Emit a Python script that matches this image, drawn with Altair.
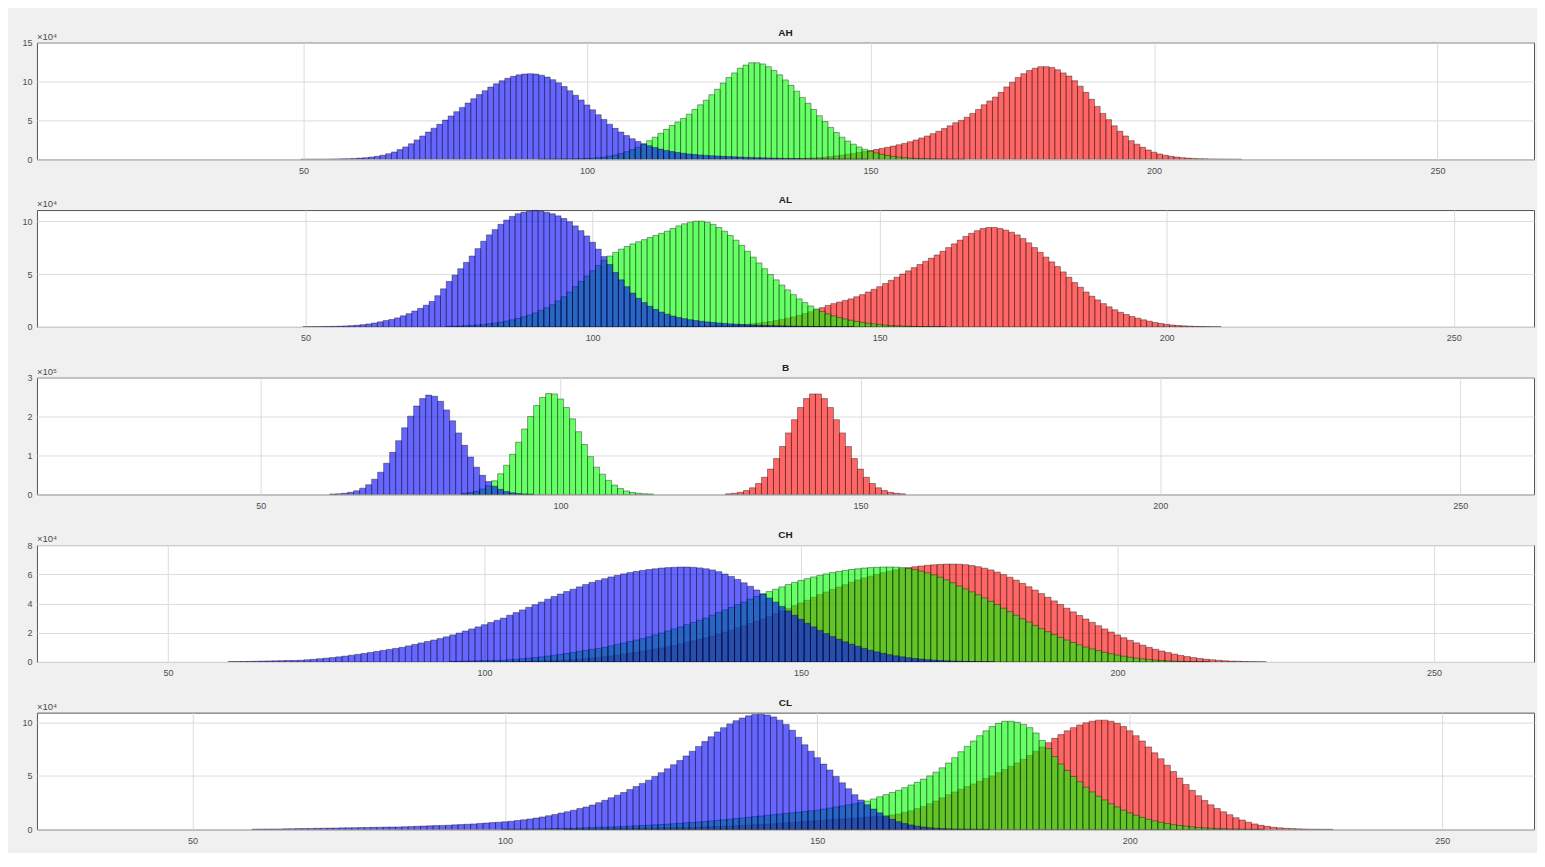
import altair as alt
import pandas as pd

X_TICKS = [50, 100, 150, 200, 250]

AH_BLUE_START = 50
AH_BLUE = [0.005, 0.008, 0.012, 0.018, 0.025, 0.035, 0.05, 0.065, 0.09, 0.12,
           0.16, 0.22, 0.3, 0.4, 0.53, 0.72, 0.95, 1.25, 1.6, 2.0,
           2.5, 3.0, 3.5, 4.0, 4.5, 5.04, 5.57, 6.12, 6.67, 7.23,
           7.78, 8.31, 8.81, 9.28, 9.7, 10.09, 10.4, 10.66, 10.85, 10.96,
           11.0, 10.95, 10.8, 10.56, 10.23, 9.82, 9.34, 8.81, 8.23, 7.62,
           6.99, 6.36, 5.73, 5.12, 4.52, 3.98, 3.5, 3.05, 2.65, 2.3,
           2.0, 1.75, 1.52, 1.32, 1.15, 1.0, 0.88, 0.78, 0.69, 0.62,
           0.56, 0.51, 0.47, 0.43, 0.39, 0.36, 0.33, 0.3, 0.27, 0.25,
           0.22, 0.2, 0.18, 0.16, 0.14, 0.12, 0.11, 0.095, 0.08, 0.07,
           0.06, 0.05, 0.04, 0.035, 0.03, 0.025, 0.02, 0.015, 0.012, 0.01]
AH_GREEN_START = 92
AH_GREEN = [0.01, 0.015, 0.02, 0.03, 0.04, 0.05, 0.065, 0.08,
            0.1, 0.15, 0.22, 0.3, 0.42, 0.56, 0.75, 0.98, 1.25, 1.55,
            1.95, 2.4, 2.85, 3.35, 3.85, 4.35, 4.8, 5.25, 5.8, 6.4,
            7.0, 7.6, 8.3, 9.0, 9.8, 10.5, 11.1, 11.7, 12.1, 12.4,
            12.4, 12.25, 11.9, 11.4, 10.85, 10.2, 9.5, 8.75, 7.95, 7.2,
            6.4, 5.6, 4.85, 4.1, 3.45, 2.85, 2.35, 1.95, 1.6, 1.3,
            1.05, 0.82, 0.64, 0.5, 0.38, 0.29, 0.22, 0.16, 0.12, 0.09,
            0.07, 0.05, 0.04, 0.03, 0.02, 0.015, 0.01]
AH_RED_START = 128
AH_RED = [0.01, 0.015, 0.02, 0.025, 0.03, 0.035, 0.04,
          0.05, 0.07, 0.09, 0.12, 0.15,
          0.19, 0.24, 0.3, 0.37, 0.45, 0.55, 0.65, 0.76, 0.88, 1.0,
          1.13, 1.26, 1.4, 1.55, 1.7, 1.87, 2.05, 2.25, 2.5, 2.75,
          3.0, 3.3, 3.6, 3.95, 4.3, 4.7, 5.0, 5.4, 5.9, 6.4,
          7.0, 7.5, 8.0, 8.6, 9.3, 9.9, 10.5, 11.0, 11.4, 11.7,
          11.9, 11.9, 11.8, 11.5, 11.1, 10.7, 10.1, 9.4, 8.6, 7.7,
          6.8, 5.9, 5.1, 4.3, 3.6, 3.0, 2.4, 1.95, 1.55, 1.2,
          0.92, 0.7, 0.52, 0.4, 0.3, 0.22, 0.16, 0.12, 0.09, 0.07,
          0.05, 0.04, 0.03, 0.02, 0.015, 0.01]

AL_BLUE_START = 50
AL_BLUE = [0.01, 0.015, 0.02, 0.03, 0.04, 0.05, 0.07, 0.09, 0.12, 0.16,
           0.21, 0.28, 0.37, 0.48, 0.6, 0.7, 0.85, 1.05, 1.25, 1.5,
           1.75, 2.05, 2.4, 2.95, 3.6, 4.3, 4.9, 5.5, 6.1, 6.7,
           7.4, 8.1, 8.7, 9.2, 9.7, 10.1, 10.45, 10.7, 10.85, 10.95,
           11.0, 10.95, 10.85, 10.7, 10.5, 10.25, 9.95, 9.55, 9.1, 8.6,
           8.0, 7.35, 6.65, 5.9, 5.15, 4.45, 3.8, 3.2, 2.7, 2.3,
           1.95, 1.65, 1.4, 1.2, 1.03, 0.89, 0.78, 0.68, 0.6, 0.53,
           0.47, 0.42, 0.37, 0.33, 0.29, 0.26, 0.23, 0.2, 0.18, 0.16,
           0.14, 0.12, 0.11, 0.095, 0.08, 0.07, 0.06, 0.05, 0.04, 0.035,
           0.03, 0.025, 0.02, 0.015, 0.012, 0.01]
AL_GREEN_START = 75
AL_GREEN = [0.05, 0.07, 0.09, 0.12, 0.15,
            0.19, 0.24, 0.3, 0.37, 0.45, 0.55, 0.67, 0.8, 0.95, 1.12,
            1.32, 1.55, 1.8, 2.1, 2.45, 2.85, 3.3, 3.8, 4.3, 4.8,
            5.3, 5.8, 6.3, 6.7, 7.05, 7.35, 7.6, 7.85, 8.05, 8.25,
            8.45, 8.65, 8.85, 9.05, 9.3, 9.55, 9.75, 9.9, 10.0, 10.0,
            9.9, 9.7, 9.4, 9.05, 8.65, 8.2, 7.7, 7.15, 6.6, 6.05,
            5.5, 4.95, 4.45, 3.95, 3.5, 3.05, 2.65, 2.3, 1.98, 1.7,
            1.45, 1.23, 1.04, 0.88, 0.75, 0.63, 0.52, 0.43, 0.35, 0.28,
            0.22, 0.17, 0.13, 0.1, 0.08, 0.06, 0.045, 0.035, 0.025, 0.02,
            0.015, 0.01]
AL_RED_START = 112
AL_RED = [0.01, 0.015, 0.02, 0.025, 0.03, 0.035, 0.04, 0.045,
          0.05, 0.07, 0.09, 0.11, 0.14, 0.17, 0.21, 0.25, 0.3, 0.36,
          0.43, 0.51, 0.6, 0.7, 0.82, 0.95, 1.1, 1.26, 1.43, 1.62,
          1.82, 2.03, 2.2, 2.35, 2.5, 2.65, 2.85, 3.05, 3.3, 3.55,
          3.8, 4.1, 4.4, 4.7, 5.0, 5.3, 5.6, 5.9, 6.2, 6.5,
          6.8, 7.15, 7.5, 7.85, 8.2, 8.55, 8.85, 9.1, 9.3, 9.4,
          9.4, 9.3, 9.15, 8.95, 8.7, 8.35, 7.95, 7.5, 7.05, 6.6,
          6.15, 5.7, 5.2, 4.7, 4.2, 3.75, 3.3, 2.9, 2.55, 2.2,
          1.9, 1.62, 1.38, 1.17, 0.98, 0.82, 0.67, 0.54, 0.42, 0.32,
          0.24, 0.18, 0.13, 0.1, 0.07, 0.05, 0.035, 0.025, 0.015, 0.01]

B_BLUE_START = 62
B_BLUE = [0.008, 0.016, 0.03, 0.054, 0.094, 0.16, 0.25, 0.39,
          0.57, 0.8, 1.08, 1.38, 1.71, 2.01, 2.27, 2.46, 2.55, 2.52,
          2.39, 2.17, 1.89, 1.58, 1.26, 0.96, 0.7, 0.49, 0.33, 0.21,
          0.13, 0.077, 0.043, 0.023, 0.012, 0.006]
B_GREEN_START = 84
B_GREEN = [0.03, 0.05, 0.08, 0.14, 0.22, 0.35,
           0.53, 0.75, 1.03, 1.34, 1.68, 2.0, 2.28, 2.49, 2.59, 2.58,
           2.45, 2.23, 1.94, 1.61, 1.28, 0.97, 0.7, 0.52, 0.36, 0.24,
           0.15, 0.09, 0.05, 0.03, 0.015, 0.01]
B_RED_START = 128
B_RED = [0.015, 0.03,
         0.055, 0.1, 0.17, 0.28, 0.44, 0.65, 0.92, 1.23, 1.58, 1.92,
         2.23, 2.46, 2.58, 2.58, 2.46, 2.23, 1.92, 1.58, 1.23, 0.92,
         0.65, 0.44, 0.28, 0.17, 0.1, 0.055, 0.03, 0.015]

CH_BLUE_START = 60
CH_BLUE = [0.02, 0.025, 0.03, 0.04, 0.05, 0.06, 0.07, 0.08, 0.09, 0.1,
           0.1, 0.12, 0.15, 0.18, 0.22, 0.26, 0.3, 0.35, 0.4, 0.46,
           0.52, 0.58, 0.65, 0.72, 0.79, 0.86, 0.93, 1.0, 1.1, 1.2,
           1.3, 1.4, 1.5, 1.6, 1.72, 1.85, 1.98, 2.12, 2.26, 2.4,
           2.55, 2.7, 2.85, 3.0, 3.2, 3.38, 3.56, 3.74, 3.92, 4.1,
           4.3, 4.48, 4.65, 4.82, 4.98, 5.14, 5.3, 5.45, 5.58, 5.7,
           5.82, 5.93, 6.03, 6.12, 6.2, 6.27, 6.33, 6.38, 6.43, 6.46,
           6.48, 6.5, 6.5, 6.48, 6.44, 6.38, 6.3, 6.18, 6.02, 5.85,
           5.65, 5.42, 5.18, 4.93, 4.66, 4.38, 4.1, 3.8, 3.5, 3.2,
           2.92, 2.65, 2.4, 2.16, 1.94, 1.74, 1.55, 1.38, 1.22, 1.07,
           0.93, 0.8, 0.69, 0.59, 0.5, 0.42, 0.35, 0.29, 0.24, 0.2,
           0.16, 0.13, 0.1, 0.08, 0.06, 0.05, 0.04, 0.03, 0.02, 0.015,
           0.01]
CH_GREEN_START = 95
CH_GREEN = [0.04, 0.05, 0.06, 0.07, 0.08,
            0.09, 0.1, 0.1, 0.12, 0.15, 0.18, 0.22, 0.26, 0.3, 0.35,
            0.4, 0.46, 0.52, 0.58, 0.65, 0.72, 0.79, 0.86, 0.93, 1.0,
            1.1, 1.2, 1.3, 1.4, 1.5, 1.6, 1.72, 1.85, 1.98, 2.12,
            2.26, 2.4, 2.55, 2.7, 2.85, 3.0, 3.2, 3.38, 3.56, 3.74,
            3.92, 4.1, 4.3, 4.48, 4.65, 4.82, 4.98, 5.14, 5.3, 5.45,
            5.58, 5.7, 5.82, 5.93, 6.03, 6.12, 6.2, 6.27, 6.33, 6.38,
            6.43, 6.46, 6.48, 6.5, 6.5, 6.49, 6.46, 6.4, 6.32, 6.22,
            6.1, 5.96, 5.8, 5.62, 5.42, 5.2, 5.0, 4.8, 4.6, 4.38,
            4.15, 3.92, 3.68, 3.44, 3.2, 2.96, 2.73, 2.5, 2.28, 2.07,
            1.87, 1.68, 1.5, 1.33, 1.17, 1.02, 0.89, 0.77, 0.66, 0.56,
            0.47, 0.39, 0.32, 0.26, 0.21, 0.17, 0.13, 0.1, 0.075, 0.055,
            0.04, 0.03, 0.02, 0.015, 0.01]
CH_RED_START = 105
CH_RED = [0.04, 0.05, 0.06, 0.07, 0.08,
          0.09, 0.1, 0.11, 0.13, 0.16, 0.19, 0.23, 0.27, 0.31, 0.36,
          0.41, 0.47, 0.54, 0.6, 0.67, 0.74, 0.81, 0.89, 0.96, 1.03,
          1.13, 1.24, 1.34, 1.44, 1.55, 1.65, 1.77, 1.9, 2.04, 2.18,
          2.33, 2.47, 2.63, 2.78, 2.94, 3.09, 3.3, 3.48, 3.67, 3.85,
          4.04, 4.22, 4.43, 4.61, 4.79, 4.96, 5.13, 5.29, 5.46, 5.61,
          5.75, 5.87, 5.99, 6.11, 6.21, 6.3, 6.39, 6.46, 6.52, 6.57,
          6.62, 6.65, 6.68, 6.7, 6.7, 6.69, 6.66, 6.6, 6.52, 6.42,
          6.3, 6.15, 5.98, 5.8, 5.6, 5.38, 5.15, 4.92, 4.68, 4.43,
          4.18, 3.93, 3.68, 3.43, 3.18, 2.94, 2.71, 2.48, 2.26, 2.05,
          1.85, 1.66, 1.48, 1.31, 1.15, 1.0, 0.87, 0.75, 0.64, 0.54,
          0.45, 0.37, 0.3, 0.24, 0.19, 0.15, 0.11, 0.08, 0.06, 0.045,
          0.03, 0.02, 0.015, 0.01]

CL_BLUE_START = 60
CL_BLUE = [0.03, 0.035, 0.04, 0.045, 0.05, 0.06, 0.07, 0.08, 0.09, 0.1,
           0.11, 0.12, 0.13, 0.14, 0.15, 0.16, 0.17, 0.18, 0.19, 0.2,
           0.21, 0.22, 0.23, 0.24, 0.26, 0.28, 0.3, 0.32, 0.34, 0.36,
           0.38, 0.4, 0.43, 0.46, 0.49, 0.52, 0.56, 0.6, 0.64, 0.68,
           0.72, 0.77, 0.83, 0.9, 0.98, 1.07, 1.17, 1.28, 1.4, 1.53,
           1.66, 1.8, 1.95, 2.1, 2.28, 2.5, 2.72, 2.96, 3.2, 3.45,
           3.72, 4.0, 4.3, 4.6, 4.95, 5.3, 5.66, 6.04, 6.44, 6.86,
           7.3, 7.75, 8.2, 8.65, 9.1, 9.5, 9.85, 10.15, 10.4, 10.6,
           10.72, 10.75, 10.68, 10.5, 10.2, 9.8, 9.25, 8.6, 7.9, 7.3,
           6.7, 6.1, 5.55, 4.95, 4.35, 3.8, 3.25, 2.75, 2.3, 1.9,
           1.55, 1.22, 0.95, 0.73, 0.55, 0.42, 0.31, 0.23, 0.17, 0.12,
           0.09, 0.065, 0.045, 0.035, 0.025, 0.02, 0.015, 0.01]
CL_GREEN_START = 100
CL_GREEN = [0.03, 0.035, 0.04, 0.045, 0.05, 0.06, 0.07, 0.08, 0.09, 0.1,
            0.11, 0.12, 0.14, 0.16, 0.18, 0.2, 0.22, 0.24, 0.26, 0.28,
            0.31, 0.34, 0.37, 0.4, 0.43, 0.46, 0.5, 0.54, 0.58, 0.62,
            0.66, 0.7, 0.75, 0.8, 0.85, 0.9, 0.96, 1.02, 1.08, 1.14,
            1.2, 1.26, 1.32, 1.38, 1.44, 1.5, 1.56, 1.62, 1.68, 1.74,
            1.8, 1.9, 2.0, 2.1, 2.2, 2.3, 2.4, 2.5, 2.65, 2.85,
            3.05, 3.25, 3.45, 3.65, 3.9, 4.15, 4.4, 4.7, 5.0, 5.35,
            5.75, 6.2, 6.7, 7.25, 7.75, 8.25, 8.75, 9.2, 9.6, 9.9,
            10.1, 10.1, 10.0, 9.8, 9.5, 9.0, 8.3, 7.55, 6.8, 6.1,
            5.5, 4.95, 4.45, 3.95, 3.5, 3.1, 2.75, 2.4, 2.1, 1.8,
            1.55, 1.33, 1.13, 0.95, 0.8, 0.67, 0.55, 0.45, 0.37, 0.3,
            0.24, 0.19, 0.15, 0.12, 0.09, 0.07, 0.05, 0.04, 0.03, 0.02,
            0.015, 0.01]
CL_RED_START = 110
CL_RED = [0.02, 0.025, 0.03, 0.035, 0.04, 0.05, 0.06, 0.07, 0.08, 0.09,
          0.1, 0.11, 0.12, 0.13, 0.14, 0.15, 0.16, 0.17, 0.18, 0.19,
          0.2, 0.22, 0.24, 0.26, 0.28, 0.3, 0.32, 0.35, 0.38, 0.41,
          0.44, 0.47, 0.5, 0.54, 0.58, 0.62, 0.66, 0.7, 0.74, 0.78,
          0.82, 0.86, 0.9, 0.94, 0.98, 1.02, 1.06, 1.1, 1.15, 1.2,
          1.25, 1.3, 1.35, 1.45, 1.6, 1.75, 1.95, 2.15, 2.4, 2.65,
          2.95, 3.25, 3.5, 3.75, 4.0, 4.25, 4.5, 4.75, 5.0, 5.3,
          5.6, 5.9, 6.2, 6.55, 6.9, 7.3, 7.7, 8.1, 8.5, 8.85,
          9.2, 9.5, 9.75, 9.95, 10.1, 10.2, 10.2, 10.1, 9.9, 9.6,
          9.2, 8.75, 8.25, 7.7, 7.15, 6.6, 6.0, 5.4, 4.8, 4.2,
          3.65, 3.15, 2.7, 2.3, 1.95, 1.65, 1.38, 1.1, 0.88, 0.68,
          0.52, 0.39, 0.29, 0.21, 0.15, 0.11, 0.08, 0.06, 0.04, 0.03,
          0.02, 0.015, 0.01]

RED, GREEN, BLUE = "#ff0000", "#00ff00", "#0000ff"

PANELS = [
    dict(title="AH", exp="×10⁴", xdom=[3, 267], ydom=[0, 15], yticks=[0, 5, 10, 15],
         series=[(AH_RED_START, AH_RED, RED), (AH_GREEN_START, AH_GREEN, GREEN), (AH_BLUE_START, AH_BLUE, BLUE)]),
    dict(title="AL", exp="×10⁴", xdom=[3.2, 264], ydom=[0, 11.05], yticks=[0, 5, 10],
         series=[(AL_RED_START, AL_RED, RED), (AL_GREEN_START, AL_GREEN, GREEN), (AL_BLUE_START, AL_BLUE, BLUE)]),
    dict(title="B", exp="×10⁵", xdom=[12.7, 262.3], ydom=[0, 3], yticks=[0, 1, 2, 3],
         series=[(B_RED_START, B_RED, RED), (B_GREEN_START, B_GREEN, GREEN), (B_BLUE_START, B_BLUE, BLUE)]),
    dict(title="CH", exp="×10⁴", xdom=[29.3, 265.8], ydom=[0, 8], yticks=[0, 2, 4, 6, 8],
         series=[(CH_RED_START, CH_RED, RED), (CH_GREEN_START, CH_GREEN, GREEN), (CH_BLUE_START, CH_BLUE, BLUE)]),
    dict(title="CL", exp="×10⁴", xdom=[25.1, 264.7], ydom=[0, 10.9], yticks=[0, 5, 10],
         series=[(CL_RED_START, CL_RED, RED), (CL_GREEN_START, CL_GREEN, GREEN), (CL_BLUE_START, CL_BLUE, BLUE)]),
]

GRID = "#dcdcdc"
LABEL = "#4d4d4d"
FONT = "Liberation Sans"


def panel(p):
    xscale = alt.Scale(domain=p["xdom"], nice=False, zero=False)
    yscale = alt.Scale(domain=p["ydom"], nice=False, zero=True)
    xaxis = alt.Axis(values=X_TICKS, title=None, grid=True, gridColor=GRID, labelFontSize=9,
                     labelColor=LABEL, labelFont=FONT, ticks=False, labelPadding=7, domain=False,
                     minExtent=20, maxExtent=20, labelFlush=False)
    yaxis = alt.Axis(values=p["yticks"], title=None, grid=True, gridColor=GRID, labelFontSize=9,
                     labelColor=LABEL, labelFont=FONT, ticks=False, labelPadding=5, domain=False,
                     minExtent=28, maxExtent=28, labelFlush=False)
    layers = []
    for start, vals, color in p["series"]:
        df = pd.DataFrame({"bin": [start + k for k in range(len(vals))], "count": vals})
        layers.append(
            alt.Chart(df)
            .transform_calculate(x0="datum.bin - 0.5", x1="datum.bin + 0.5")
            .mark_bar(fill=color, fillOpacity=0.6, stroke="black", strokeWidth=0.5,
                      strokeOpacity=0.75, clip=True)
            .encode(
                x=alt.X("x0:Q", scale=xscale, axis=xaxis),
                x2="x1:Q",
                y=alt.Y("count:Q", scale=yscale, axis=yaxis),
                y2=alt.datum(0),
            )
        )
    txt = (
        alt.Chart(pd.DataFrame({"t": [p["exp"]]}))
        .mark_text(align="left", baseline="bottom", fontSize=9.5, color=LABEL, font=FONT)
        .encode(x=alt.value(0), y=alt.value(-1), text="t:N")
    )
    return alt.layer(*layers, txt).properties(
        width=1499, height=117,
        title=alt.TitleParams(p["title"], fontSize=10, fontWeight="bold", offset=-6,
                              font=FONT, color="#222"),
    )


chart = (
    alt.vconcat(*[panel(p) for p in PANELS], spacing=13.75)
    .properties(background="#f0f0f0", padding={"top": 18, "left": 0, "right": 2, "bottom": 2})
    .configure_view(stroke="#555555", strokeWidth=1, fill="white")
)

chart.save("out.html", embed_options={"renderer": "svg", "actions": False})
